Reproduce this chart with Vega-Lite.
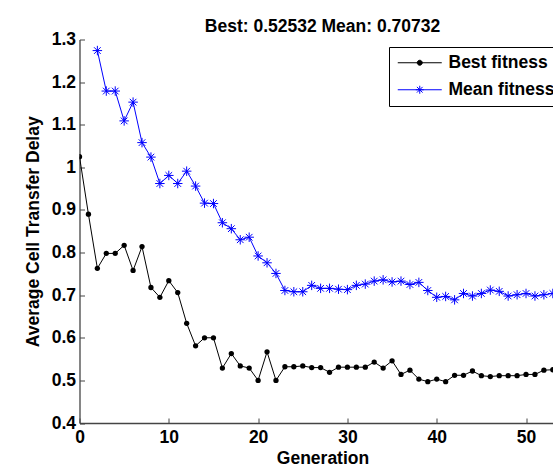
{
  "$schema": "https://vega.github.io/schema/vega-lite/v6.json",
  "width": 486,
  "height": 383.5,
  "autosize": {"type": "none"},
  "padding": {"left": 79.5, "top": 39.5, "right": 0, "bottom": 45},
  "background": "white",
  "config": {"view": {"stroke": null}, "font": "Liberation Sans"},
  "title": {"text": "Best: 0.52532 Mean: 0.70732", "font": "Liberation Sans", "fontSize": 17.5, "fontWeight": "bold", "color": "black", "anchor": "middle", "frame": "group", "baseline": "bottom", "offset": 2, "dy": 25},
  "data": {"values": [
    {"gen": 0, "series": "Best fitness", "value": 1.025},
    {"gen": 1, "series": "Best fitness", "value": 0.890},
    {"gen": 2, "series": "Best fitness", "value": 0.763},
    {"gen": 3, "series": "Best fitness", "value": 0.798},
    {"gen": 4, "series": "Best fitness", "value": 0.798},
    {"gen": 5, "series": "Best fitness", "value": 0.817},
    {"gen": 6, "series": "Best fitness", "value": 0.758},
    {"gen": 7, "series": "Best fitness", "value": 0.814},
    {"gen": 8, "series": "Best fitness", "value": 0.718},
    {"gen": 9, "series": "Best fitness", "value": 0.695},
    {"gen": 10, "series": "Best fitness", "value": 0.734},
    {"gen": 11, "series": "Best fitness", "value": 0.706},
    {"gen": 12, "series": "Best fitness", "value": 0.634},
    {"gen": 13, "series": "Best fitness", "value": 0.581},
    {"gen": 14, "series": "Best fitness", "value": 0.600},
    {"gen": 15, "series": "Best fitness", "value": 0.600},
    {"gen": 16, "series": "Best fitness", "value": 0.529},
    {"gen": 17, "series": "Best fitness", "value": 0.563},
    {"gen": 18, "series": "Best fitness", "value": 0.534},
    {"gen": 19, "series": "Best fitness", "value": 0.529},
    {"gen": 20, "series": "Best fitness", "value": 0.500},
    {"gen": 21, "series": "Best fitness", "value": 0.567},
    {"gen": 22, "series": "Best fitness", "value": 0.500},
    {"gen": 23, "series": "Best fitness", "value": 0.532},
    {"gen": 24, "series": "Best fitness", "value": 0.532},
    {"gen": 25, "series": "Best fitness", "value": 0.534},
    {"gen": 26, "series": "Best fitness", "value": 0.530},
    {"gen": 27, "series": "Best fitness", "value": 0.530},
    {"gen": 28, "series": "Best fitness", "value": 0.519},
    {"gen": 29, "series": "Best fitness", "value": 0.531},
    {"gen": 30, "series": "Best fitness", "value": 0.531},
    {"gen": 31, "series": "Best fitness", "value": 0.531},
    {"gen": 32, "series": "Best fitness", "value": 0.531},
    {"gen": 33, "series": "Best fitness", "value": 0.543},
    {"gen": 34, "series": "Best fitness", "value": 0.529},
    {"gen": 35, "series": "Best fitness", "value": 0.546},
    {"gen": 36, "series": "Best fitness", "value": 0.514},
    {"gen": 37, "series": "Best fitness", "value": 0.524},
    {"gen": 38, "series": "Best fitness", "value": 0.503},
    {"gen": 39, "series": "Best fitness", "value": 0.497},
    {"gen": 40, "series": "Best fitness", "value": 0.503},
    {"gen": 41, "series": "Best fitness", "value": 0.497},
    {"gen": 42, "series": "Best fitness", "value": 0.512},
    {"gen": 43, "series": "Best fitness", "value": 0.512},
    {"gen": 44, "series": "Best fitness", "value": 0.522},
    {"gen": 45, "series": "Best fitness", "value": 0.511},
    {"gen": 46, "series": "Best fitness", "value": 0.509},
    {"gen": 47, "series": "Best fitness", "value": 0.511},
    {"gen": 48, "series": "Best fitness", "value": 0.511},
    {"gen": 49, "series": "Best fitness", "value": 0.511},
    {"gen": 50, "series": "Best fitness", "value": 0.514},
    {"gen": 51, "series": "Best fitness", "value": 0.514},
    {"gen": 52, "series": "Best fitness", "value": 0.524},
    {"gen": 53, "series": "Best fitness", "value": 0.525},
    {"gen": 2, "series": "Mean fitness", "value": 1.274},
    {"gen": 3, "series": "Mean fitness", "value": 1.179},
    {"gen": 4, "series": "Mean fitness", "value": 1.179},
    {"gen": 5, "series": "Mean fitness", "value": 1.109},
    {"gen": 6, "series": "Mean fitness", "value": 1.153},
    {"gen": 7, "series": "Mean fitness", "value": 1.058},
    {"gen": 8, "series": "Mean fitness", "value": 1.024},
    {"gen": 9, "series": "Mean fitness", "value": 0.962},
    {"gen": 10, "series": "Mean fitness", "value": 0.981},
    {"gen": 11, "series": "Mean fitness", "value": 0.962},
    {"gen": 12, "series": "Mean fitness", "value": 0.991},
    {"gen": 13, "series": "Mean fitness", "value": 0.956},
    {"gen": 14, "series": "Mean fitness", "value": 0.916},
    {"gen": 15, "series": "Mean fitness", "value": 0.915},
    {"gen": 16, "series": "Mean fitness", "value": 0.870},
    {"gen": 17, "series": "Mean fitness", "value": 0.856},
    {"gen": 18, "series": "Mean fitness", "value": 0.830},
    {"gen": 19, "series": "Mean fitness", "value": 0.836},
    {"gen": 20, "series": "Mean fitness", "value": 0.792},
    {"gen": 21, "series": "Mean fitness", "value": 0.776},
    {"gen": 22, "series": "Mean fitness", "value": 0.751},
    {"gen": 23, "series": "Mean fitness", "value": 0.711},
    {"gen": 24, "series": "Mean fitness", "value": 0.708},
    {"gen": 25, "series": "Mean fitness", "value": 0.708},
    {"gen": 26, "series": "Mean fitness", "value": 0.723},
    {"gen": 27, "series": "Mean fitness", "value": 0.716},
    {"gen": 28, "series": "Mean fitness", "value": 0.716},
    {"gen": 29, "series": "Mean fitness", "value": 0.714},
    {"gen": 30, "series": "Mean fitness", "value": 0.713},
    {"gen": 31, "series": "Mean fitness", "value": 0.723},
    {"gen": 32, "series": "Mean fitness", "value": 0.726},
    {"gen": 33, "series": "Mean fitness", "value": 0.733},
    {"gen": 34, "series": "Mean fitness", "value": 0.736},
    {"gen": 35, "series": "Mean fitness", "value": 0.731},
    {"gen": 36, "series": "Mean fitness", "value": 0.733},
    {"gen": 37, "series": "Mean fitness", "value": 0.725},
    {"gen": 38, "series": "Mean fitness", "value": 0.730},
    {"gen": 39, "series": "Mean fitness", "value": 0.711},
    {"gen": 40, "series": "Mean fitness", "value": 0.695},
    {"gen": 41, "series": "Mean fitness", "value": 0.697},
    {"gen": 42, "series": "Mean fitness", "value": 0.689},
    {"gen": 43, "series": "Mean fitness", "value": 0.704},
    {"gen": 44, "series": "Mean fitness", "value": 0.698},
    {"gen": 45, "series": "Mean fitness", "value": 0.704},
    {"gen": 46, "series": "Mean fitness", "value": 0.712},
    {"gen": 47, "series": "Mean fitness", "value": 0.709},
    {"gen": 48, "series": "Mean fitness", "value": 0.698},
    {"gen": 49, "series": "Mean fitness", "value": 0.701},
    {"gen": 50, "series": "Mean fitness", "value": 0.704},
    {"gen": 51, "series": "Mean fitness", "value": 0.698},
    {"gen": 52, "series": "Mean fitness", "value": 0.701},
    {"gen": 53, "series": "Mean fitness", "value": 0.704}
  ]},
  "encoding": {
    "x": {"field": "gen", "type": "quantitative",
      "scale": {"domain": [0, 54.42], "nice": false, "zero": false},
      "axis": {"title": "Generation", "values": [0, 10, 20, 30, 40, 50], "grid": false,
        "domainColor": "#444", "domainWidth": 1.3, "tickColor": "#444", "tickWidth": 1, "tickSize": -5,
        "labelPadding": 10, "labelFont": "Liberation Sans", "labelFontSize": 17.5, "labelFontWeight": "bold", "labelColor": "black",
        "labelFlush": false, "labelOverlap": false,
        "titleFont": "Liberation Sans", "titleFontSize": 17.5, "titleFontWeight": "bold", "titleColor": "black", "titlePadding": 4}},
    "y": {"field": "value", "type": "quantitative",
      "scale": {"domain": [0.4, 1.3], "nice": false, "zero": false},
      "axis": {"title": "Average Cell Transfer Delay", "values": [0.4, 0.5, 0.6, 0.7, 0.8, 0.9, 1.0, 1.1, 1.2, 1.3], "format": "~g", "grid": false,
        "domainColor": "#444", "domainWidth": 1.3, "tickColor": "#444", "tickWidth": 1, "tickSize": -5,
        "labelPadding": 9, "labelFont": "Liberation Sans", "labelFontSize": 17.5, "labelFontWeight": "bold", "labelColor": "black",
        "labelFlush": false, "labelOverlap": false,
        "titleFont": "Liberation Sans", "titleFontSize": 17.5, "titleFontWeight": "bold", "titleColor": "black", "titlePadding": 9}}
  },
  "layer": [
    {
      "mark": {"type": "line", "strokeWidth": 1, "clip": true},
      "encoding": {
        "color": {"field": "series", "type": "nominal",
          "scale": {"domain": ["Best fitness", "Mean fitness"], "range": ["black", "blue"]},
          "legend": {"orient": "none", "legendX": 309.5, "legendY": 7.5, "title": null,
            "strokeColor": "black", "fillColor": "white", "padding": 7,
            "labelFont": "Liberation Sans", "labelFontSize": 17.5, "labelFontWeight": "bold", "labelColor": "black",
            "symbolSize": 100, "symbolOffset": 15, "labelOffset": 20, "rowPadding": 8, "symbolStrokeWidth": 1,
            "encode": {"symbols": {"update": {
              "shape": {"signal": "datum.value === 'Best fitness' ? 'M-4.4,0H4.4M-0.5,0A0.5,0.5,0,1,0,0.5,0A0.5,0.5,0,1,0,-0.5,0Z' : 'M-4.4,0H4.4M0,-0.8V0.8M-0.8,0H0.8M-0.57,-0.57L0.57,0.57M-0.57,0.57L0.57,-0.57'"},
              "fill": {"signal": "datum.value === 'Best fitness' ? 'black' : 'transparent'"},
              "strokeWidth": {"value": 1},
              "opacity": {"value": 1}
            }}}}
        }
      }
    },
    {
      "transform": [{"filter": "datum.series === 'Best fitness'"}],
      "mark": {"type": "point", "shape": "circle", "filled": true, "size": 28, "color": "black", "opacity": 1, "clip": true}
    },
    {
      "transform": [{"filter": "datum.series === 'Mean fitness'"}],
      "mark": {"type": "point", "shape": "M-1,0H1M0,-1V1M-0.7,-0.7L0.7,0.7M-0.7,0.7L0.7,-0.7", "filled": false, "size": 90, "color": "blue", "strokeWidth": 1, "opacity": 1, "clip": true}
    }
  ]
}
